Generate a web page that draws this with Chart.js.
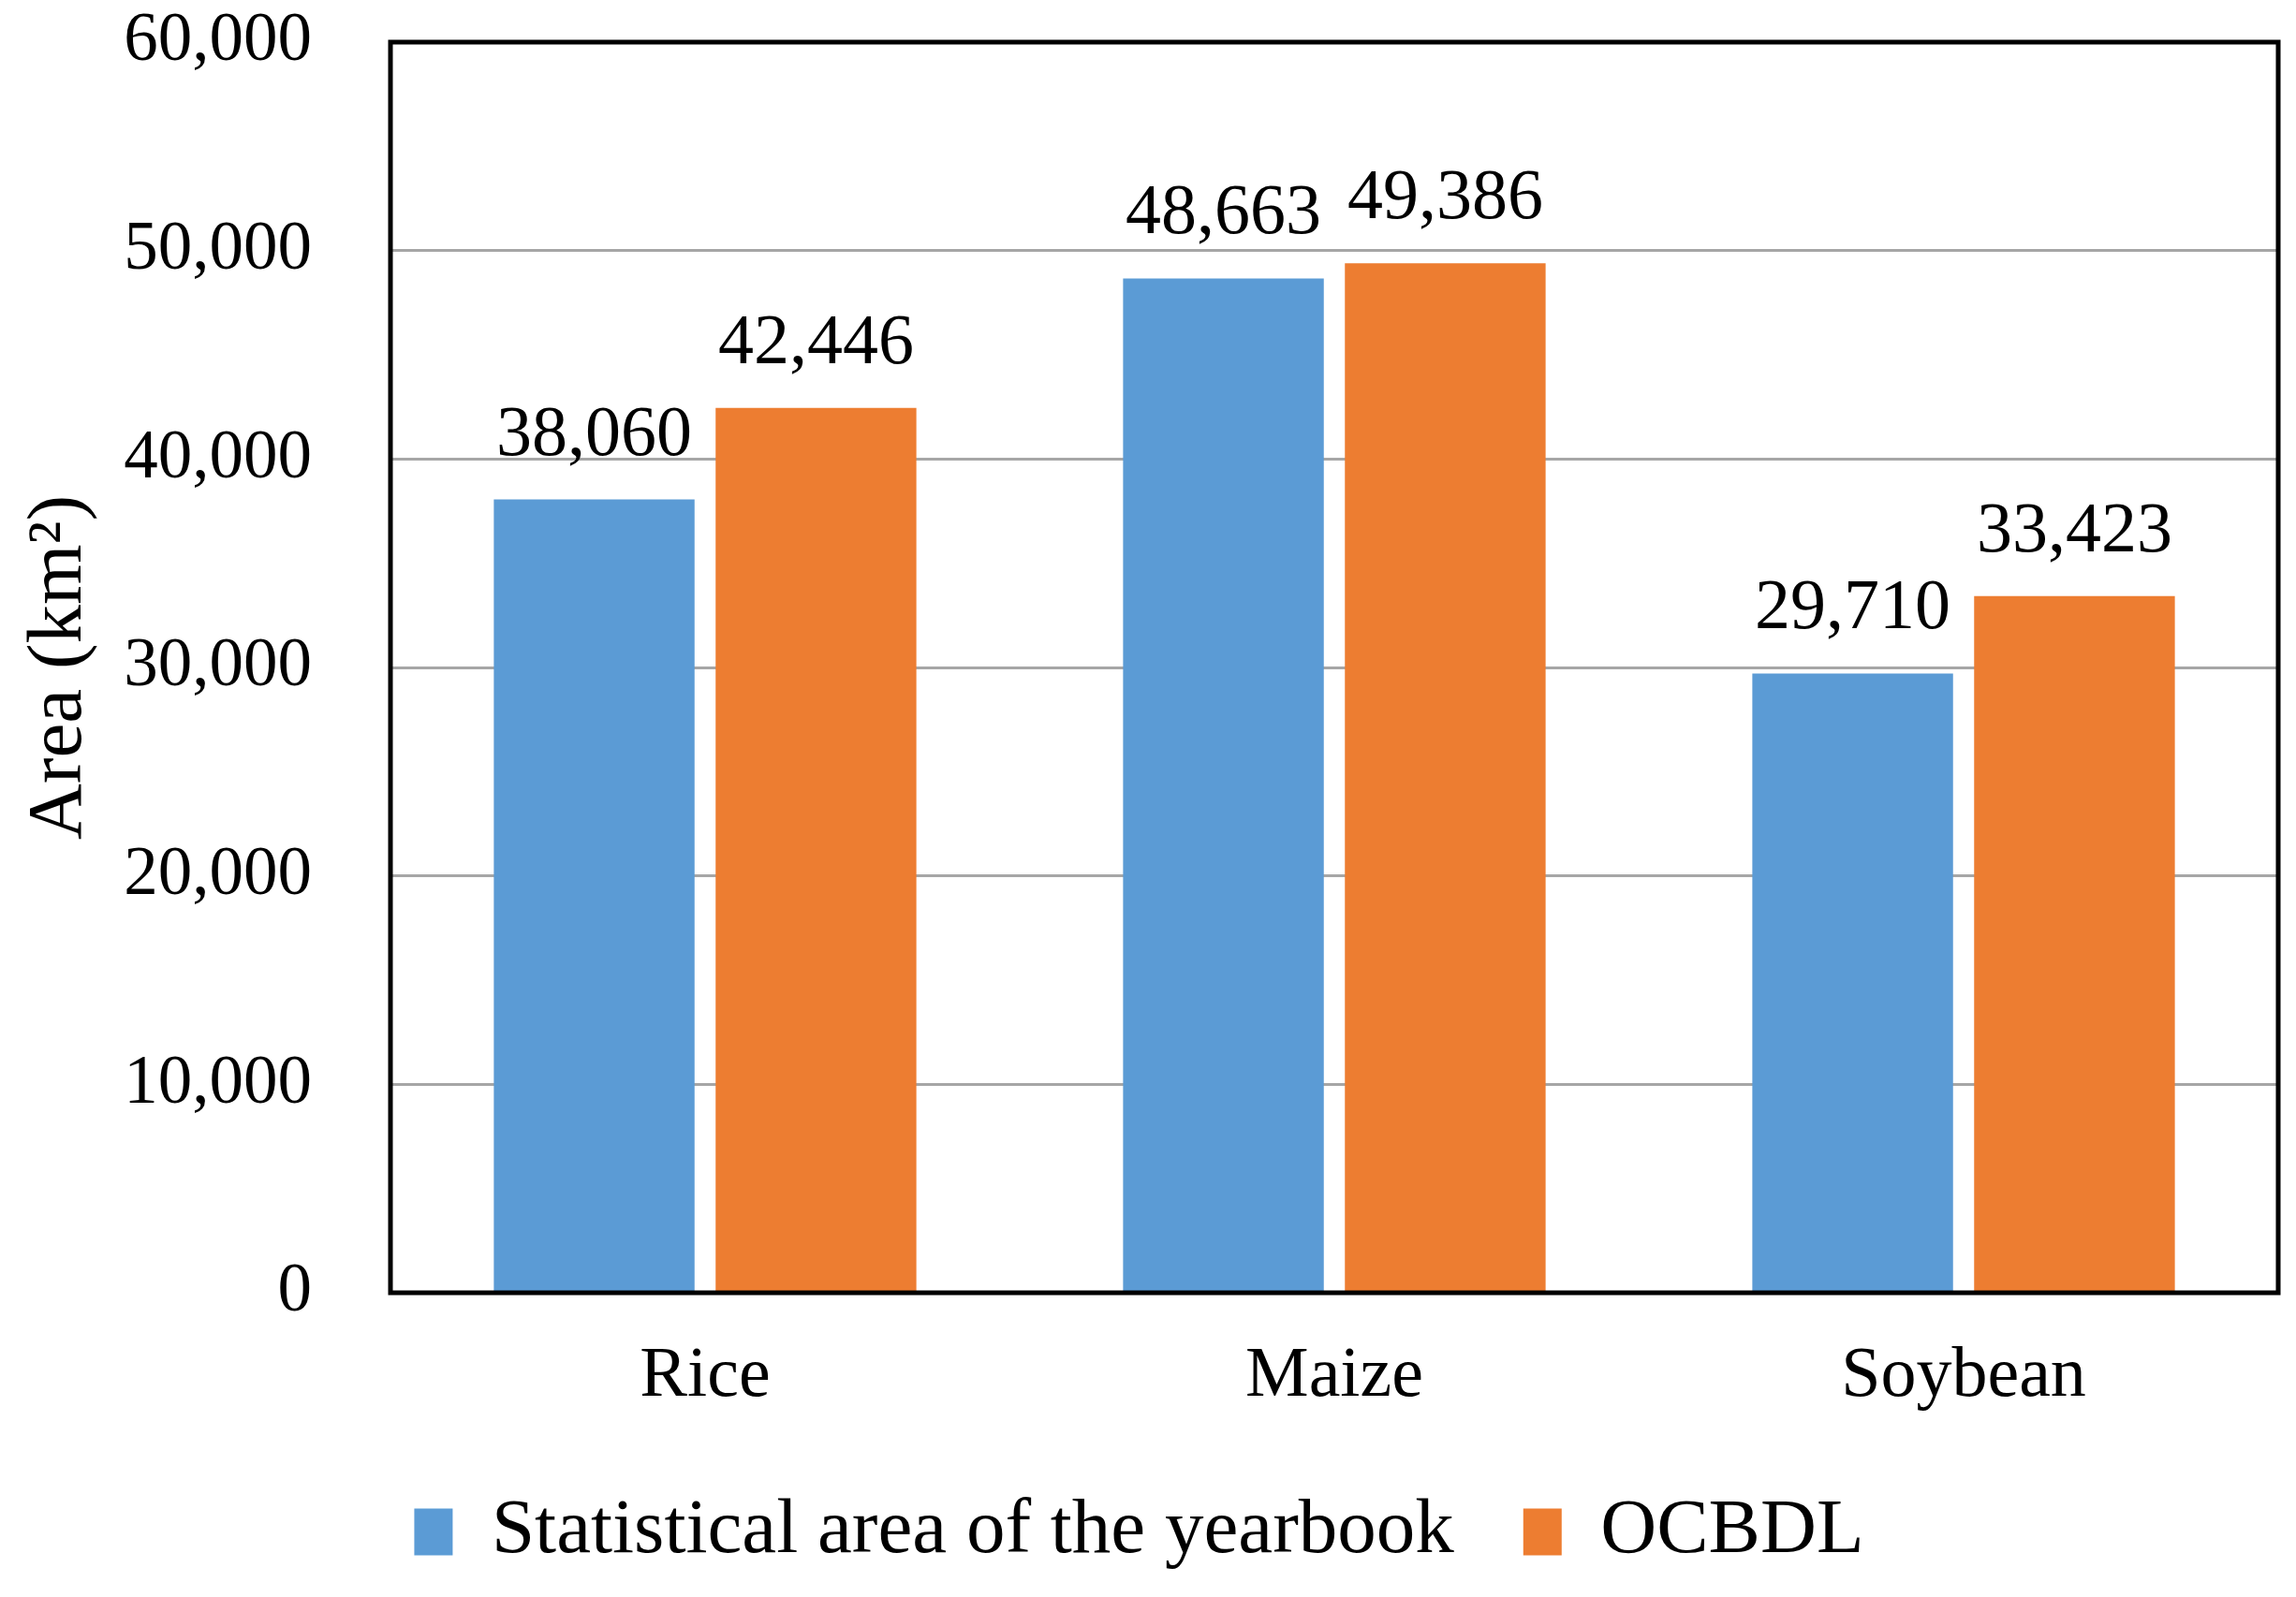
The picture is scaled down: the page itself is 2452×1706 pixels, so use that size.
<!DOCTYPE html>
<html>
<head>
<meta charset="utf-8">
<script src="https://cdn.jsdelivr.net/npm/chart.js@4.4.1/dist/chart.umd.min.js"></script>
<style>
  html, body { margin: 0; padding: 0; background: #fff; }
  canvas { display: block; }
</style>
</head>
<body>
<canvas id="areaChart" width="2452" height="1706" style="width:2452px;height:1706px"></canvas>
<script>
const crops = ['Rice', 'Maize', 'Soybean'];
const yearbookArea = [38060, 48663, 29710];
const ocbdlArea = [42446, 49386, 33423];
const seriesNames = ['Statistical area of the yearbook', 'OCBDL'];
const yTicks = [0, 10000, 20000, 30000, 40000, 50000, 60000];

const serif = '"Liberation Serif", "Times New Roman", serif';
const fmt = v => v.toLocaleString('en-US');

// value labels above each bar + black frame round the plot area
const barLabels = {
    id: 'barLabels',
    afterDatasetsDraw(chart) {
        const c = chart.ctx;
        c.save();
        c.font = '76px ' + serif;
        c.fillStyle = '#000';
        c.textAlign = 'center';
        c.textBaseline = 'alphabetic';
        chart.data.datasets.forEach((ds, i) => {
            chart.getDatasetMeta(i).data.forEach((bar, j) => {
                c.fillText(fmt(ds.data[j]), bar.x, bar.y - 48);
            });
        });
        const a = chart.chartArea;
        c.strokeStyle = '#000';
        c.lineWidth = 5;
        c.strokeRect(a.left, a.top, a.right - a.left, a.bottom - a.top);
        c.restore();
    }
};

const ctx = document.getElementById('areaChart').getContext('2d');

new Chart(ctx, {
    type: 'bar',
    data: {
        labels: crops,
        datasets: [{
            label: seriesNames[0],
            data: yearbookArea,
            backgroundColor: '#5B9BD5',
            categoryPercentage: 0.705,
            barPercentage: 0.905
        }, {
            label: seriesNames[1],
            data: ocbdlArea,
            backgroundColor: '#ED7D31',
            categoryPercentage: 0.705,
            barPercentage: 0.905
        }]
    },
    options: {
        responsive: false,
        devicePixelRatio: 1,
        animation: false,
        layout: { padding: { top: 45, right: 19, left: 0, bottom: 18 } },
        plugins: {
            tooltip: { enabled: false },
            legend: {
                position: 'bottom',
                labels: {
                    color: '#000',
                    font: { size: 83, family: serif },
                    boxWidth: 41,
                    boxHeight: 50,
                    padding: 74
                }
            }
        },
        scales: {
            x: {
                grid: { display: false, drawTicks: false },
                border: { display: false },
                ticks: {
                    color: '#000',
                    padding: 44,
                    font: { size: 76, family: serif }
                },
                afterFit: s => { s.height = 140; }
            },
            y: {
                min: 0,
                max: 60000,
                afterBuildTicks: s => { s.ticks = yTicks.map(v => ({ value: v })); },
                ticks: {
                    color: '#000',
                    padding: 0,
                    font: { size: 73, family: serif },
                    callback: v => fmt(v)
                },
                grid: {
                    color: '#a6a6a6',
                    lineWidth: 3,
                    drawTicks: true,
                    tickLength: 84,
                    tickColor: 'rgba(0,0,0,0)'
                },
                border: { display: false },
                title: {
                    display: true,
                    text: 'Area (km²)',
                    color: '#000',
                    font: { size: 83, family: serif },
                    padding: { top: 14, bottom: 0 }
                },
                afterFit: s => { s.width = 417; }
            }
        }
    },
    plugins: [barLabels]
});
</script>
</body>
</html>
